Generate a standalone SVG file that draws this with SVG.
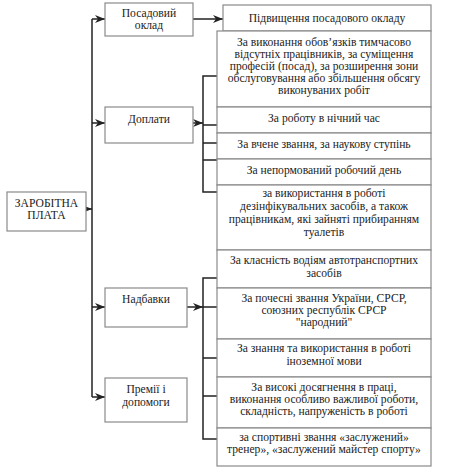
<svg xmlns="http://www.w3.org/2000/svg" width="459" height="475" viewBox="0 0 459 475">
<style>
.box{fill:#fff;stroke:#8a8a8a;stroke-width:1.2}
.t{font-family:'Liberation Serif','Times New Roman',serif;font-size:11.6px;fill:#222;text-anchor:middle}
.c{fill:none;stroke:#222;stroke-width:1.5}
</style>
<defs>
<marker id="ah" viewBox="0 0 10 8" refX="10" refY="4" markerWidth="10" markerHeight="8" markerUnits="userSpaceOnUse" orient="auto">
<path d="M0,0 L10,4 L0,8 L3,4 z" fill="#222"/>
</marker>
</defs>
<rect width="459" height="475" fill="#fff"/>
<g id="connectors">
<line class="c" x1="86" y1="209" x2="92" y2="209" marker-end="url(#ah)"/>
<line class="c" x1="92" y1="19" x2="92" y2="397"/>
<line class="c" x1="92" y1="19" x2="105" y2="19" marker-end="url(#ah)"/>
<line class="c" x1="92" y1="123" x2="105" y2="123" marker-end="url(#ah)"/>
<line class="c" x1="92" y1="307" x2="105" y2="307" marker-end="url(#ah)"/>
<line class="c" x1="92" y1="397" x2="105" y2="397" marker-end="url(#ah)"/>
<line class="c" x1="193" y1="19" x2="223" y2="19" marker-end="url(#ah)"/>
<line class="c" x1="193" y1="123" x2="203" y2="123" marker-end="url(#ah)"/>
<line class="c" x1="187" y1="307" x2="203" y2="307" marker-end="url(#ah)"/>
<path class="c" d="M217,76 H203 V192 H217 M203,125 H217 M203,143 H217 M203,160 H217"/>
<path class="c" d="M217,278 H203 V439 H217 M203,307 H217 M203,358 H217 M203,396 H217"/>
</g>
<g id="n-zarplata"><rect class="box" x="7" y="192" width="79" height="39"/><text class="t" x="46.5" y="207">ЗАРОБІТНА</text><text class="t" x="46.5" y="219">ПЛАТА</text></g>
<g id="n-posadovyi"><rect class="box" x="105" y="3" width="88" height="33"/><text class="t" x="149" y="17">Посадовий</text><text class="t" x="149" y="29">оклад</text></g>
<g id="n-doplaty"><rect class="box" x="105" y="107" width="88" height="36"/><text class="t" x="149" y="123">Доплати</text></g>
<g id="n-nadbavky"><rect class="box" x="105" y="288" width="82" height="39"/><text class="t" x="146" y="303">Надбавки</text></g>
<g id="n-premii"><rect class="box" x="105" y="378" width="82" height="44"/><text class="t" x="146" y="393">Премії і</text><text class="t" x="146" y="406">допомоги</text></g>
<g id="n-pidv"><rect class="box" x="223" y="5" width="208" height="26"/><text class="t" x="327" y="22">Підвищення посадового окладу</text></g>
<g id="n-d1"><rect class="box" x="217" y="31" width="214" height="76"/>
<text class="t" x="324" y="46">За виконання обов’язків тимчасово</text>
<text class="t" x="324" y="58">відсутніх працівників, за суміщення</text>
<text class="t" x="324" y="70">професій (посад), за розширення зони</text>
<text class="t" x="324" y="82">обслуговування або збільшення обсягу</text>
<text class="t" x="324" y="94">виконуваних робіт</text></g>
<g id="n-d2"><rect class="box" x="217" y="107" width="214" height="26"/><text class="t" x="324" y="122">За роботу в нічний час</text></g>
<g id="n-d3"><rect class="box" x="217" y="133" width="214" height="26"/><text class="t" x="324" y="148">За вчене звання, за наукову ступінь</text></g>
<g id="n-d4"><rect class="box" x="217" y="159" width="214" height="26"/><text class="t" x="324" y="174">За непормований робочий день</text></g>
<g id="n-d5"><rect class="box" x="217" y="185" width="214" height="65"/>
<text class="t" x="324" y="197">за використання в роботі</text>
<text class="t" x="324" y="210">дезінфікувальних засобів, а також</text>
<text class="t" x="324" y="223">працівникам, які зайняті прибиранням</text>
<text class="t" x="324" y="236">туалетів</text></g>
<g id="n-n1"><rect class="box" x="217" y="250" width="214" height="38"/>
<text class="t" x="324" y="264">За класність водіям автотранспортних</text>
<text class="t" x="324" y="277">засобів</text></g>
<g id="n-n2"><rect class="box" x="217" y="288" width="214" height="51"/>
<text class="t" x="324" y="302">За почесні звання України, СРСР,</text>
<text class="t" x="324" y="314">союзних республік СРСР</text>
<text class="t" x="324" y="326">"народний"</text></g>
<g id="n-n3"><rect class="box" x="217" y="339" width="214" height="38"/>
<text class="t" x="324" y="352">За знання та використання в роботі</text>
<text class="t" x="324" y="365">іноземної мови</text></g>
<g id="n-p1"><rect class="box" x="217" y="377" width="214" height="51"/>
<text class="t" x="324" y="391">За високі досягнення в праці,</text>
<text class="t" x="324" y="403">виконання особливо важливої роботи,</text>
<text class="t" x="324" y="415">складність, напруженість в роботі</text></g>
<g id="n-p2"><rect class="box" x="217" y="428" width="214" height="38"/>
<text class="t" x="324" y="441">за спортивні звання «заслужений»</text>
<text class="t" x="324" y="453">тренер», «заслужений майстер спорту»</text></g>
</svg>
